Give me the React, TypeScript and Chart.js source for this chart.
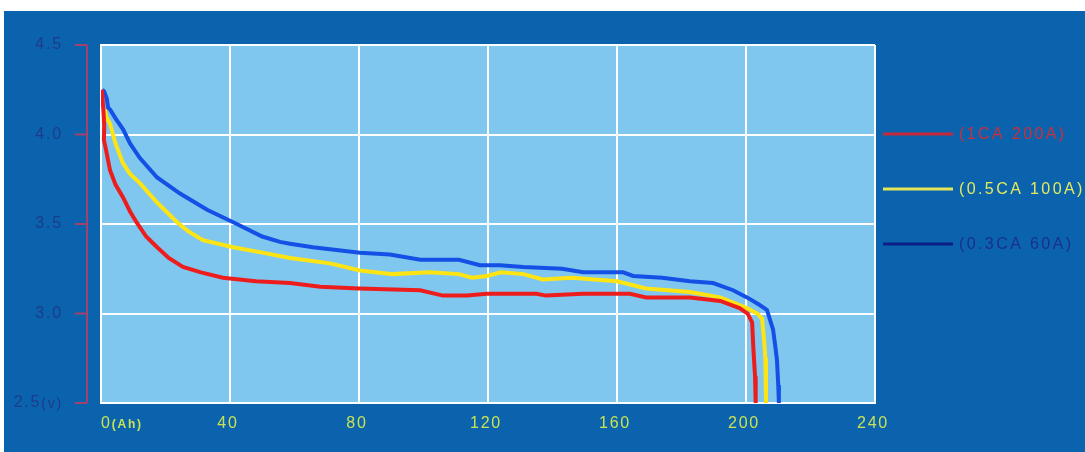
import React, { useEffect, useRef } from "react";
import { Chart, registerables } from "chart.js";

Chart.register(...registerables);

// ---- data ----
const seriesLabels = ["(1CA 200A)", "(0.5CA 100A)", "(0.3CA 60A)"];

const redAh = [0.3, 0.8, 1.0, 0.9, 1.5, 2.8, 4.5, 6.8, 9, 11, 14, 17.4, 21, 25.4, 31, 37.8, 48, 58.6, 68, 80, 99, 106, 113.5, 119.7, 135, 138, 149.5, 164, 169, 182.6, 192, 198, 200.5, 201.9, 202.3, 202.8, 203];
const redV = [4.25, 4.12, 4.05, 3.97, 3.92, 3.8, 3.72, 3.65, 3.57, 3.51, 3.43, 3.37, 3.31, 3.26, 3.23, 3.2, 3.18, 3.17, 3.15, 3.14, 3.13, 3.1, 3.1, 3.11, 3.11, 3.1, 3.11, 3.11, 3.09, 3.09, 3.07, 3.03, 3.0, 2.95, 2.8, 2.65, 2.5];

const yellowAh = [1.2, 1.6, 2.8, 4.5, 6.8, 9, 12, 17.4, 23.6, 27, 31.6, 41, 50, 58.6, 71, 80.3, 90.5, 102, 111, 115, 119.7, 124, 131, 137, 146, 160, 169, 182.6, 192, 200.3, 203.5, 205, 205.6, 206, 206.2];
const yellowV = [4.14, 4.1, 4.06, 3.95, 3.84, 3.78, 3.73, 3.62, 3.51, 3.46, 3.41, 3.37, 3.34, 3.31, 3.28, 3.24, 3.22, 3.23, 3.22, 3.2, 3.21, 3.23, 3.22, 3.19, 3.2, 3.18, 3.14, 3.12, 3.09, 3.03, 3.0, 2.97, 2.85, 2.75, 2.5];

const blueAh = [0.4, 1.0, 1.8, 2.2, 2.8, 4.5, 6.8, 9, 12, 17.4, 24.5, 32.9, 41, 50, 55.5, 58.6, 65.7, 80.3, 89.6, 99, 111, 117.5, 123.7, 130.9, 143, 149.5, 161.9, 165, 174, 182.6, 189.8, 196, 200.3, 204, 206.5, 208.4, 209.2, 209.6, 210, 210.2];
const blueV = [4.25, 4.24, 4.2, 4.15, 4.14, 4.09, 4.03, 3.95, 3.87, 3.76, 3.67, 3.58, 3.51, 3.43, 3.4, 3.39, 3.37, 3.34, 3.33, 3.3, 3.3, 3.27, 3.27, 3.26, 3.25, 3.23, 3.23, 3.21, 3.2, 3.18, 3.17, 3.13, 3.09, 3.05, 3.02, 2.91, 2.8, 2.74, 2.6, 2.5];

const xTickValues = [0, 40, 80, 120, 160, 200, 240];
const xTickLabels = ["0", "40", "80", "120", "160", "200", "240"];
const yTickValues = [4.5, 4.0, 3.5, 3.0, 2.5];
const yTickLabels = ["4.5", "4.0", "3.5", "3.0", "2.5"];
const xUnit = "(Ah)";
const yUnit = "(v)";

// ---- styles ----
const lineColors = ["#ee1d1d", "#ffe414", "#1450e6"];
const legendLineColors = ["#c8283a", "#e6e45a", "#0c1f86"];
const legendTextColors = ["#cc2e3c", "#e4ea5c", "#1a2f8e"];
const FONT = "'Liberation Sans', Arial, sans-serif";

const zip = (xs: number[], ys: number[]) => xs.map((x, i) => ({ x, y: ys[i] }));

const decorPlugin = {
  id: "decor",
  beforeDraw(chart: any) {
    const { ctx, chartArea: a, width, height } = chart;
    ctx.save();
    ctx.fillStyle = "#ffffff";
    ctx.fillRect(0, 0, width, height);
    ctx.fillStyle = "#0b63ad";
    ctx.fillRect(4, 11, width - 4, height - 11);
    ctx.fillStyle = "#7fc7ee";
    ctx.fillRect(a.left, a.top, a.right - a.left, a.bottom - a.top);
    ctx.restore();
  },
  afterDraw(chart: any) {
    const { ctx, chartArea: a, scales } = chart;
    const ys = scales.y;
    const xs = scales.x;
    ctx.save();
    // left maroon axis
    const axX = a.left - 14;
    ctx.strokeStyle = "#a3406c";
    ctx.lineWidth = 2;
    ctx.beginPath();
    ctx.moveTo(axX, ys.getPixelForValue(4.5));
    ctx.lineTo(axX, ys.getPixelForValue(2.5));
    ctx.stroke();
    (ctx as any).letterSpacing = "1.8px";
    ctx.textBaseline = "middle";
    yTickValues.forEach((v, i) => {
      const py = ys.getPixelForValue(v);
      ctx.strokeStyle = "#a3406c";
      ctx.beginPath();
      ctx.moveTo(axX - 12, py);
      ctx.lineTo(axX, py);
      ctx.stroke();
      ctx.fillStyle = "#1d3b8c";
      const right = axX - 24;
      if (v === 2.5) {
        ctx.font = `14px ${FONT}`;
        const uw = ctx.measureText(yUnit).width;
        ctx.textAlign = "right";
        ctx.fillText(yUnit, right, py + 1);
        ctx.font = `16px ${FONT}`;
        ctx.fillText(yTickLabels[i], right - uw, py);
      } else {
        ctx.font = `16px ${FONT}`;
        ctx.textAlign = "right";
        ctx.fillText(yTickLabels[i], right, py);
      }
    });
    // x labels
    ctx.fillStyle = "#c9e255";
    const ly = a.bottom + 21;
    xTickValues.forEach((v, i) => {
      const px = xs.getPixelForValue(v);
      if (v === 0) {
        ctx.textAlign = "left";
        ctx.font = `16px ${FONT}`;
        ctx.fillText(xTickLabels[i], px, ly);
        const w = ctx.measureText(xTickLabels[i]).width;
        ctx.font = `bold 12px ${FONT}`;
        ctx.fillText(xUnit, px + w, ly + 1);
      } else {
        ctx.textAlign = "center";
        ctx.font = `16px ${FONT}`;
        ctx.fillText(xTickLabels[i], px - 2, ly);
      }
    });
    // legend
    const legendY = [134, 189, 244];
    (ctx as any).letterSpacing = "2.4px";
    ctx.font = `16px ${FONT}`;
    ctx.textAlign = "left";
    chart.data.datasets.forEach((ds: any, i: number) => {
      ctx.strokeStyle = legendLineColors[i];
      ctx.lineWidth = 3;
      ctx.beginPath();
      ctx.moveTo(883, legendY[i]);
      ctx.lineTo(953, legendY[i]);
      ctx.stroke();
      ctx.fillStyle = legendTextColors[i];
      ctx.fillText(ds.label, 959, legendY[i] + 1);
    });
    ctx.restore();
  },
};

export default function App() {
  const ref = useRef<HTMLCanvasElement>(null);
  useEffect(() => {
    if (!ref.current) return;
    const chart = new Chart(ref.current, {
      type: "line",
      data: {
        datasets: [
          { label: seriesLabels[0], data: zip(redAh, redV), borderColor: lineColors[0], borderWidth: 4, pointRadius: 0, tension: 0 },
          { label: seriesLabels[1], data: zip(yellowAh, yellowV), borderColor: lineColors[1], borderWidth: 4, pointRadius: 0, tension: 0 },
          { label: seriesLabels[2], data: zip(blueAh, blueV), borderColor: lineColors[2], borderWidth: 4, pointRadius: 0, tension: 0 },
        ],
      },
      options: {
        responsive: false,
        animation: false,
        layout: { padding: { left: 101, right: 210, top: 45, bottom: 49 } },
        plugins: { legend: { display: false }, tooltip: { enabled: false } },
        scales: {
          x: {
            type: "linear",
            min: 0,
            max: 240,
            ticks: { stepSize: 40, display: false },
            grid: { color: "#ffffff", lineWidth: 2, drawTicks: false },
            border: { color: "#ffffff", width: 2 },
          },
          y: {
            type: "linear",
            min: 2.5,
            max: 4.5,
            ticks: { stepSize: 0.5, display: false },
            grid: { color: "#ffffff", lineWidth: 2, drawTicks: false },
            border: { color: "#ffffff", width: 2 },
          },
        },
      },
      plugins: [decorPlugin],
    });
    return () => chart.destroy();
  }, []);
  return (
    <div style={{ position: "absolute", left: 0, top: 0, width: 1085, height: 452 }}>
      <canvas ref={ref} width={1085} height={452} />
    </div>
  );
}
